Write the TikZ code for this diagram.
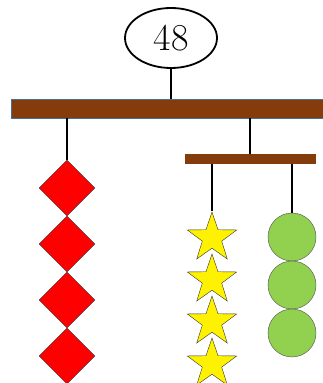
\documentclass[tikz,border=0pt]{standalone}
\usepackage{tikz}
\usetikzlibrary{shapes.misc, positioning, shapes.geometric, arrows}
\definecolor{wood}{HTML}{843C0C}
\definecolor{woodedge}{HTML}{41719C}
\definecolor{leaf}{HTML}{92D050}
\tikzstyle{total} = [ellipse, minimum width=92pt, minimum height=60pt, draw=black, line width=1.8pt, inner sep=0pt, font=\fontsize{38}{44}\selectfont]
\tikzstyle{bar} = [rectangle, fill=wood, inner sep=0pt]
\tikzstyle{gem} = [diamond, minimum width=56pt, minimum height=56pt, inner sep=0pt, draw=black!80, fill=red]
\tikzstyle{sstar} = [star, star points=5, star point ratio=2.55, minimum size=52pt, inner sep=0pt, draw=black!80, fill=yellow]
\tikzstyle{ball} = [circle, minimum size=48pt, inner sep=0pt, draw=black!70, fill=leaf]
\tikzstyle{string} = [line width=2pt]
\def\gap{56pt}

\begin{document}
\begin{tikzpicture}[x=1pt, y=1pt]
\useasboundingbox (0,0) rectangle (323,383);

\node (sum) [total] at (171,345) {48};
\node (bar1) [bar, draw=woodedge, minimum width=315pt, minimum height=19pt] at (168.5,274.5) {};
\draw [string] (sum) -- (sum.south |- bar1.north);

% left arm: diamonds
\node (d1) [gem] at (67,195) {};
\node (d2) [gem, below of=d1, node distance=\gap] {};
\node (d3) [gem, below of=d2, node distance=\gap] {};
\node (d4) [gem, below of=d3, node distance=\gap] {};
\draw [string] (d1.north |- bar1.south) -- (d1.north);

% right arm: small bar
\node (bar2) [bar, minimum width=131pt, minimum height=10pt] at (250.5,224) {};
\draw [string] (bar2.north -| 250,0) -- (bar1.south -| 250,0);

\node (s1) [sstar] at (212,145) {};
\node (s2) [sstar, below of=s1, node distance=42pt] {};
\node (s3) [sstar, below of=s2, node distance=42pt] {};
\node (s4) [sstar, below of=s3, node distance=42pt] {};
\draw [string] (s1.north |- bar2.south) -- (s1.north);

\node (c1) [ball] at (292,146) {};
\node (c2) [ball, below of=c1, node distance=48pt] {};
\node (c3) [ball, below of=c2, node distance=48pt] {};
\draw [string] (c1.north |- bar2.south) -- (c1.north);

\end{tikzpicture}
\end{document}
